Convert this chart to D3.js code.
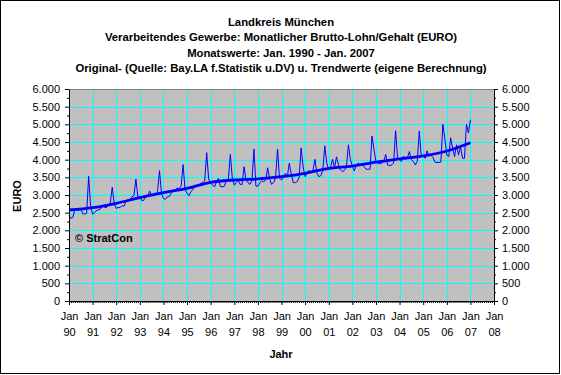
<!DOCTYPE html>
<html>
<head>
<meta charset="utf-8">
<script src="https://cdn.jsdelivr.net/npm/d3@7"></script>
<style>
  body { margin: 0; background: #fff; }
  svg { display: block; font-family: "Liberation Sans", Arial, sans-serif; }
</style>
</head>
<body>
<svg id="chart" width="561" height="375"></svg>
<script>
"use strict";

// Monatswerte (EURO), je Jahr Jan..Dez
const w1990 = [2420, 2340, 2360, 2600, 2580, 2560, 2620, 2470, 2460, 2480, 3530, 2700];
const w1991 = [2460, 2500, 2560, 2580, 2600, 2700, 2660, 2640, 2720, 2770, 3220, 2750];
const w1992 = [2620, 2650, 2640, 2700, 2680, 2820, 2880, 2850, 2950, 2980, 3450, 2950];
const w1993 = [2950, 2840, 2850, 2950, 2960, 3110, 3000, 2980, 3020, 3100, 3690, 3050];
const w1994 = [2900, 2880, 2950, 2960, 3050, 3140, 3100, 3200, 3180, 3250, 3860, 3150];
const w1995 = [3050, 2980, 3100, 3150, 3280, 3250, 3280, 3330, 3350, 3400, 4200, 3450];
const w1996 = [3330, 3290, 3230, 3380, 3470, 3240, 3230, 3250, 3420, 3450, 4150, 3470];
const w1997 = [3280, 3350, 3420, 3300, 3300, 3800, 3420, 3350, 3300, 3420, 4300, 3250];
const w1998 = [3250, 3350, 3400, 3380, 3420, 3770, 3450, 3300, 3350, 3480, 4300, 3480];
const w1999 = [3420, 3520, 3610, 3520, 3900, 3600, 3350, 3350, 3380, 3500, 4330, 3800];
const w2000 = [3520, 3610, 3700, 3620, 3680, 4010, 3620, 3520, 3550, 3700, 4390, 3900];
const w2001 = [3710, 3800, 4010, 3780, 4080, 3850, 3710, 3660, 3700, 3780, 4420, 4000];
const w2002 = [3820, 3680, 3850, 3900, 3850, 3900, 3800, 3730, 3730, 3730, 4670, 4300];
const w2003 = [3950, 3900, 3880, 3900, 3950, 4150, 3850, 3830, 3850, 3900, 4820, 4050];
const w2004 = [3990, 3950, 4100, 4000, 4050, 4230, 4000, 3950, 3850, 3950, 4810, 4100];
const w2005 = [4100, 4040, 4250, 4100, 4130, 4060, 3930, 3920, 3920, 3930, 5000, 4600];
const w2006 = [4130, 4090, 4620, 4320, 4090, 4420, 4130, 4370, 4040, 4040, 5000, 4760];
const w2007 = [5130];

const years = d3.range(1990, 2008);
const original = [w1990, w1991, w1992, w1993, w1994, w1995, w1996, w1997, w1998,
  w1999, w2000, w2001, w2002, w2003, w2004, w2005, w2006, w2007];

// Trendwerte jeweils im Januar
const trendJan = [2575, 2640, 2765, 2925, 3065, 3190, 3360, 3425, 3455, 3520,
  3615, 3755, 3820, 3930, 4020, 4105, 4245, 4480];

const titleLines = [
  "Landkreis München",
  "Verarbeitendes Gewerbe: Monatlicher Brutto-Lohn/Gehalt (EURO)",
  "Monatswerte: Jan. 1990 - Jan. 2007",
  "Original- (Quelle: Bay.LA f.Statistik u.DV) u. Trendwerte (eigene Berechnung)"
];
const yTicks = d3.range(0, 6001, 500);

// Monatsreihe aufbauen
const series = [];
original.forEach((vals, i) => {
  vals.forEach((v, m) => series.push({ date: new Date(years[i], m, 1), value: v }));
});
const trend = trendJan.map((v, i) => ({ date: new Date(years[i], 0, 1), value: v }));

// Plotbereich
const plot = { left: 69, right: 494, top: 89, bottom: 301 };

const x = d3.scaleTime()
  .domain([new Date(1990, 0, 1), new Date(2008, 0, 1)])
  .range([plot.left, plot.right]);

const y = d3.scaleLinear()
  .domain([0, 6000])
  .range([plot.bottom, plot.top]);

const de = d3.formatLocale({ decimal: ",", thousands: ".", grouping: [3], currency: ["", " €"] });
const fmtY = de.format(",.0f");
const fmtYear = d3.timeFormat("%y");

const svg = d3.select("#chart");

// Rahmen
svg.append("rect")
  .attr("x", 0.5).attr("y", 0.5)
  .attr("width", 559).attr("height", 373)
  .attr("fill", "#fff")
  .attr("stroke", "#000");

// Titel
svg.append("g")
  .selectAll("text")
  .data(titleLines)
  .join("text")
  .attr("x", 281)
  .attr("y", (d, i) => 26 + i * 15.3)
  .attr("text-anchor", "middle")
  .attr("font-size", "11.3px")
  .attr("font-weight", "bold")
  .text((d) => d);

// Hintergrund Plotfläche
svg.append("rect")
  .attr("x", plot.left).attr("y", plot.top)
  .attr("width", plot.right - plot.left)
  .attr("height", plot.bottom - plot.top)
  .attr("fill", "#c0c0c0");

// Gitternetz
const grid = svg.append("g").attr("stroke", "#00ffff").attr("stroke-width", 1);
grid.selectAll(".h")
  .data(yTicks.filter((d) => d > 0))
  .join("line")
  .attr("x1", plot.left).attr("x2", plot.right)
  .attr("y1", (d) => Math.round(y(d)) + 0.5)
  .attr("y2", (d) => Math.round(y(d)) + 0.5);
grid.selectAll(".v")
  .data(years.slice(1))
  .join("line")
  .attr("x1", (d) => Math.round(x(new Date(d, 0, 1))) + 0.5)
  .attr("x2", (d) => Math.round(x(new Date(d, 0, 1))) + 0.5)
  .attr("y1", plot.top).attr("y2", plot.bottom);

// obere Kante
svg.append("line")
  .attr("x1", plot.left).attr("x2", plot.right)
  .attr("y1", plot.top + 0.5).attr("y2", plot.top + 0.5)
  .attr("stroke", "#808080");

// Linien
const line = d3.line()
  .x((d) => x(d.date))
  .y((d) => y(d.value));

svg.append("path")
  .datum(series)
  .attr("fill", "none")
  .attr("stroke", "#0000ff")
  .attr("stroke-width", 1)
  .attr("d", line);

svg.append("path")
  .datum(trend)
  .attr("fill", "none")
  .attr("stroke", "#0000ff")
  .attr("stroke-width", 2.8)
  .attr("d", line.curve(d3.curveMonotoneX));

// Achsen
const styleAxis = (g) => {
  g.selectAll("path, line").attr("stroke", "#000");
  g.selectAll("text").attr("fill", "#000").attr("font-size", "11px")
    .attr("font-family", "'Liberation Sans', Arial, sans-serif");
};

// Nebenstriche
svg.append("g")
  .attr("transform", `translate(0,${plot.bottom})`)
  .call(d3.axisBottom(x).ticks(d3.timeMonth.every(1)).tickSize(2).tickFormat(""))
  .call((g) => g.select(".domain").remove())
  .call(styleAxis);
svg.append("g")
  .attr("transform", `translate(${plot.left},0)`)
  .call(d3.axisLeft(y).tickValues(d3.range(250, 6000, 500)).tickSize(2).tickFormat(""))
  .call((g) => g.select(".domain").remove())
  .call(styleAxis);
svg.append("g")
  .attr("transform", `translate(${plot.right},0)`)
  .call(d3.axisRight(y).tickValues(d3.range(250, 6000, 500)).tickSize(2).tickFormat(""))
  .call((g) => g.select(".domain").remove())
  .call(styleAxis);

// X-Achse
const xAxis = svg.append("g")
  .attr("transform", `translate(0,${plot.bottom})`)
  .call(d3.axisBottom(x).ticks(d3.timeYear.every(1)).tickSize(4).tickSizeOuter(0))
  .call(styleAxis);
xAxis.selectAll(".tick text").each(function (d) {
  const t = d3.select(this).attr("y", 19).attr("dy", null).text(null);
  t.append("tspan").attr("x", 0).text("Jan");
  t.append("tspan").attr("x", 0).attr("dy", 16).text(fmtYear(d));
});

// Y-Achsen
svg.append("g")
  .attr("transform", `translate(${plot.left},0)`)
  .call(d3.axisLeft(y).tickValues(yTicks).tickSize(4).tickPadding(5).tickSizeOuter(0).tickFormat(fmtY))
  .call(styleAxis);
svg.append("g")
  .attr("transform", `translate(${plot.right},0)`)
  .call(d3.axisRight(y).tickValues(yTicks).tickSize(4).tickPadding(4).tickSizeOuter(0).tickFormat(fmtY))
  .call(styleAxis);

// Achsentitel
svg.append("text")
  .attr("x", 281).attr("y", 358)
  .attr("text-anchor", "middle")
  .attr("font-size", "11px").attr("font-weight", "bold")
  .text("Jahr");

svg.append("text")
  .attr("transform", "translate(21,196) rotate(-90)")
  .attr("text-anchor", "middle")
  .attr("font-size", "11px").attr("font-weight", "bold")
  .text("EURO");

// Quelle
svg.append("text")
  .attr("x", 75).attr("y", 242)
  .attr("font-size", "11px").attr("font-weight", "bold")
  .text("© StratCon");
</script>
</body>
</html>
